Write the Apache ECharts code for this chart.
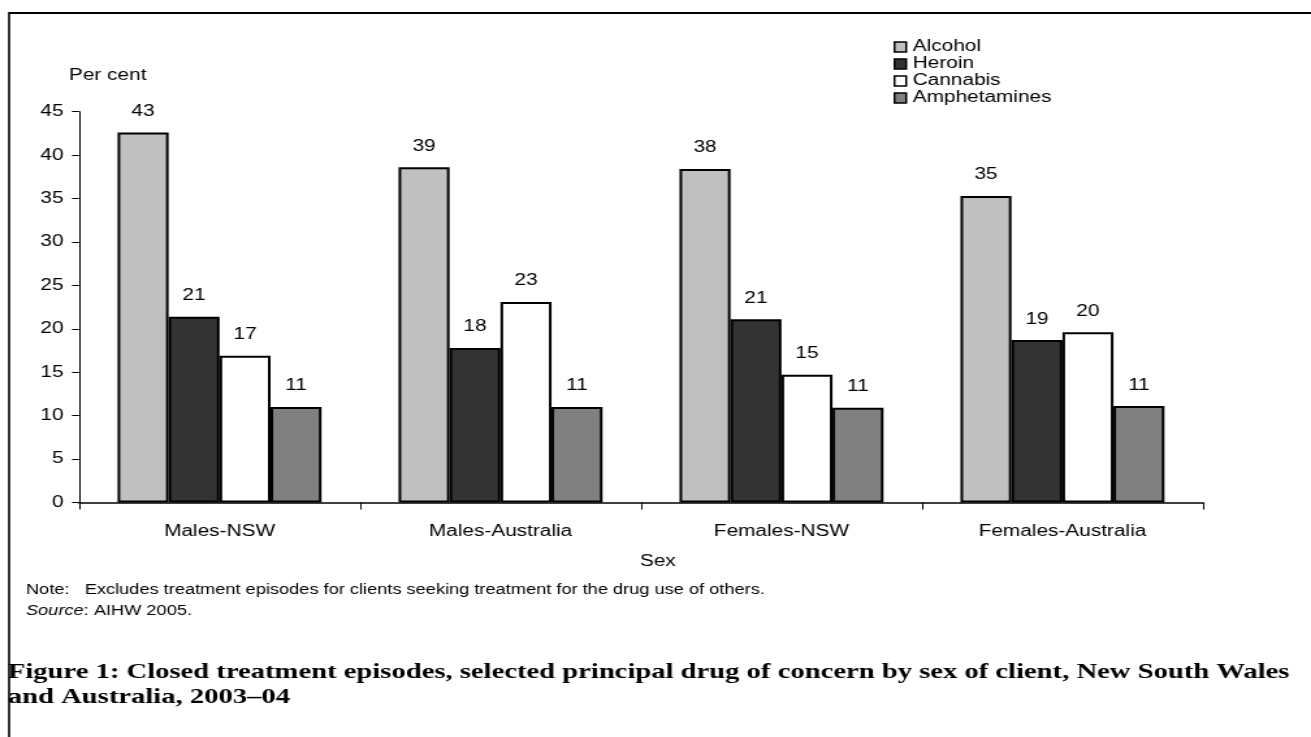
<!DOCTYPE html>
<html>
<head>
<meta charset="utf-8">
<script src="https://cdn.jsdelivr.net/npm/echarts@6/dist/echarts.min.js"></script>
<style>
  html, body { margin: 0; padding: 0; background: #fff; overflow: hidden; }
  /* the page layout is drawn on a narrower canvas and widened horizontally */
  #chart { width: 1008px; height: 737px; transform: scaleX(1.3006); transform-origin: 0 0; }
</style>
</head>
<body>
<div id="chart"></div>
<script>
// Closed treatment episodes by principal drug of concern (per cent)
const categories = ['Males-NSW', 'Males-Australia', 'Females-NSW', 'Females-Australia'];
const alcohol      = [42.6, 38.6, 38.4, 35.3];
const heroin       = [21.4, 17.8, 21.1, 18.7];
const cannabis     = [16.9, 23.1, 14.7, 19.6];
const amphetamines = [11.0, 11.0, 10.9, 11.1];
const seriesNames  = ['Alcohol', 'Heroin', 'Cannabis', 'Amphetamines'];
const seriesFills  = ['#c0c0c0', '#333333', '#ffffff', '#808080'];
const yMin = 0, yMax = 45, yStep = 5;

const noteText   = 'Note:   Excludes treatment episodes for clients seeking treatment for the drug use of others.';
const sourceText = '{i|Source}: AIHW 2005.';
const titleLine1 = 'Figure 1: Closed treatment episodes, selected principal drug of concern by sex of client, New South Wales';
const titleLine2 = 'and Australia, 2003\u201304';

const SANS = "'Liberation Sans', Arial, sans-serif";
const SERIF = "'Liberation Serif', 'Times New Roman', serif";

const chart = echarts.init(document.getElementById('chart'), null, { renderer: 'canvas' });

const values = [alcohol, heroin, cannabis, amphetamines];

chart.setOption({
  animation: false,
  backgroundColor: '#ffffff',
  textStyle: { fontFamily: SANS, color: '#000' },
  legend: {
    orient: 'vertical',
    left: 687,
    top: 39,
    padding: 0,
    itemWidth: 9,
    itemHeight: 10,
    itemGap: 1,
    icon: 'rect',
    data: seriesNames,
    itemStyle: { borderColor: '#000', borderWidth: 1.5 },
    textStyle: { fontFamily: SANS, fontSize: 16, color: '#000', lineHeight: 16 },
    selectedMode: false
  },
  grid: { left: 60.8, right: 83.1, top: 111.7, bottom: 234.5, containLabel: false },
  xAxis: {
    type: 'category',
    data: categories,
    axisLine: { lineStyle: { color: '#000', width: 1.5 } },
    axisTick: { show: true, length: 7, alignWithLabel: false, lineStyle: { color: '#000', width: 1 } },
    axisLabel: { fontFamily: SANS, fontSize: 16, color: '#000', margin: 21 },
    splitLine: { show: false }
  },
  yAxis: {
    type: 'value',
    min: yMin, max: yMax, interval: yStep,
    axisLine: { show: true, lineStyle: { color: '#000', width: 1 } },
    axisTick: { show: true, length: 5.5, lineStyle: { color: '#000', width: 1 } },
    axisLabel: { fontFamily: SANS, fontSize: 16, color: '#000', margin: 12 },
    splitLine: { show: false }
  },
  series: seriesNames.map((name, i) => ({
    name: name,
    type: 'bar',
    data: values[i],
    barWidth: 39.2,
    barGap: '0%',
    itemStyle: { color: seriesFills[i], borderColor: '#000', borderWidth: 2 },
    label: {
      show: true,
      position: 'top',
      distance: 13,
      fontFamily: SANS,
      fontSize: 16,
      color: '#000',
      formatter: p => Math.round(p.value)
    }
  })),
  graphic: [
    // frame around the figure
    { type: 'line', shape: { x1: 7, y1: 13, x2: 1008, y2: 13 }, style: { stroke: '#000', lineWidth: 2 } },
    { type: 'line', shape: { x1: 7, y1: 12, x2: 7, y2: 737 }, style: { stroke: '#000', lineWidth: 1.6 } },
    { type: 'text', left: 53, top: 68, style: { text: 'Per cent', font: '16px ' + SANS, fill: '#000' } },
    { type: 'text', left: 492, top: 554, style: { text: 'Sex', font: '16px ' + SANS, fill: '#000' } },
    { type: 'text', left: 20, top: 583, style: { text: noteText, font: '14px ' + SANS, fill: '#000' } },
    { type: 'text', left: 20, top: 604, style: {
        text: sourceText, font: '14px ' + SANS, fill: '#000',
        rich: { i: { fontStyle: 'italic', fontFamily: SANS, fontSize: 14 } }
    } },
    { type: 'text', left: 6, top: 661, style: { text: titleLine1, font: 'bold 22px ' + SERIF, fill: '#000' } },
    { type: 'text', left: 6, top: 686, style: { text: titleLine2, font: 'bold 22px ' + SERIF, fill: '#000' } }
  ]
});
</script>
</body>
</html>
